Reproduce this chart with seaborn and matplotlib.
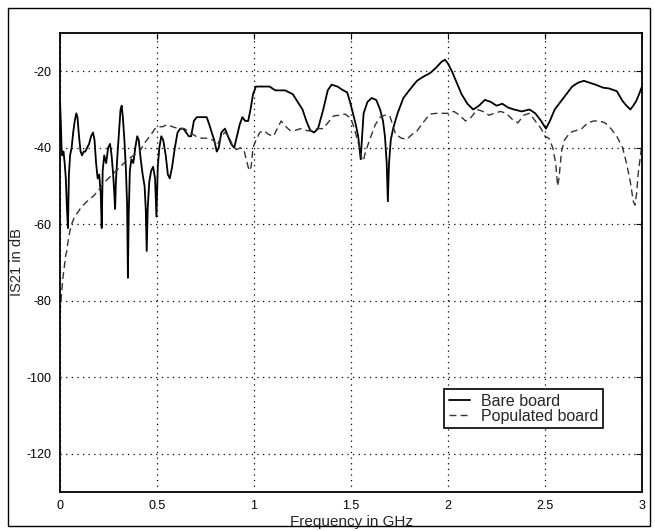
import matplotlib
matplotlib.use("Agg")
import matplotlib.pyplot as plt
import pandas as pd
import seaborn as sns
from matplotlib.patches import Rectangle

# |S21| of the bare board (solid trace), frequency in GHz
bare_freq = [
    0.000, 0.004, 0.008, 0.012, 0.018, 0.024, 0.030, 0.036, 0.041, 0.046,
    0.052, 0.060, 0.068, 0.076, 0.084, 0.090, 0.098, 0.106, 0.114, 0.122,
    0.130, 0.140, 0.150, 0.160, 0.170, 0.178, 0.186, 0.194, 0.202, 0.210,
    0.215, 0.220, 0.228, 0.238, 0.248, 0.258, 0.266, 0.274, 0.280, 0.284,
    0.288, 0.296, 0.304, 0.312, 0.318, 0.324, 0.332, 0.340, 0.346, 0.350,
    0.354, 0.360, 0.368, 0.378, 0.388, 0.398, 0.406, 0.416, 0.426, 0.436,
    0.442, 0.447, 0.452, 0.460, 0.470, 0.480, 0.490, 0.497, 0.504, 0.512,
    0.522, 0.532, 0.545, 0.556, 0.566, 0.578, 0.592, 0.606, 0.620, 0.636,
    0.650, 0.664, 0.676, 0.690, 0.705, 0.720, 0.740, 0.756, 0.770, 0.782,
    0.795, 0.808, 0.818, 0.832, 0.850, 0.866, 0.882, 0.898, 0.912, 0.926,
    0.940, 0.955, 0.970, 0.982, 0.995, 1.010, 1.030, 1.055, 1.080, 1.110,
    1.134, 1.160, 1.200, 1.225, 1.250, 1.270, 1.290, 1.310, 1.330, 1.357,
    1.380, 1.400, 1.430, 1.460, 1.480, 1.495, 1.510, 1.525, 1.537, 1.546,
    1.550, 1.556, 1.565, 1.585, 1.607, 1.630, 1.650, 1.665, 1.675, 1.684,
    1.690, 1.696, 1.705, 1.717, 1.740, 1.770, 1.800, 1.840, 1.870, 1.907,
    1.940, 1.967, 1.985, 2.000, 2.020, 2.045, 2.070, 2.100, 2.130, 2.160,
    2.190, 2.220, 2.250, 2.280, 2.310, 2.340, 2.380, 2.420, 2.450, 2.480,
    2.505, 2.525, 2.550, 2.580, 2.610, 2.640, 2.670, 2.700, 2.730, 2.760,
    2.800, 2.830, 2.870, 2.900, 2.920, 2.940, 2.955, 2.970, 2.985, 3.000,
]
bare_db = [
    -28, -33, -40, -42, -41, -44, -48, -56, -61, -47,
    -42, -40, -36, -33, -31, -32, -37, -41, -42, -41,
    -41, -40, -39, -37, -36, -38, -44, -48, -47, -52,
    -61, -46, -42, -44, -40, -39, -42, -47, -52, -56,
    -49, -42, -36, -30, -29, -32, -38, -46, -55, -74,
    -58, -46, -43, -44, -40, -37, -38, -43, -47, -50,
    -56, -67, -56, -49, -46, -45, -48, -58, -45, -40,
    -37, -38, -42, -47, -48, -45, -40, -36, -35, -35,
    -36, -37, -37, -33, -32, -32, -32, -32, -34, -36,
    -38, -41, -40, -36, -35, -37, -39, -40, -37, -34,
    -32, -33, -33, -30, -26, -24, -24, -24, -24, -25,
    -25, -25, -26, -28, -30, -33, -35.5, -36, -35, -30,
    -25, -23.5, -24, -25, -25.5, -28, -31, -34, -37, -41,
    -43, -38, -31, -28, -27, -27.5, -30, -33, -37, -44,
    -54, -44, -38, -35, -31, -27, -25, -22.5, -21.5, -20.5,
    -19, -17.5, -17, -18, -20, -23, -26, -28.5, -30, -29,
    -27.5, -28, -29, -28.5, -29.5, -30, -30.5, -30, -31, -33,
    -35, -33, -30, -28, -26, -24, -23, -22.5, -23, -23.5,
    -24.3, -24.5, -25.2, -27.8, -29, -30, -29, -27.8, -26, -24,
]

# |S21| of the populated board (dashed trace)
pop_freq = [
    0.000, 0.005, 0.010, 0.015, 0.020, 0.025, 0.030, 0.035, 0.040, 0.050,
    0.060, 0.075, 0.090, 0.110, 0.130, 0.150, 0.175, 0.200, 0.230, 0.260,
    0.290, 0.320, 0.350, 0.380, 0.410, 0.440, 0.470, 0.490, 0.510, 0.530,
    0.550, 0.580, 0.610, 0.640, 0.670, 0.700, 0.730, 0.760, 0.790, 0.810,
    0.830, 0.850, 0.870, 0.890, 0.910, 0.930, 0.950, 0.965, 0.975, 0.985,
    0.995, 1.010, 1.030, 1.050, 1.075, 1.100, 1.120, 1.140, 1.165, 1.186,
    1.210, 1.240, 1.270, 1.290, 1.320, 1.357, 1.380, 1.410, 1.440, 1.470,
    1.490, 1.504, 1.520, 1.530, 1.545, 1.556, 1.563, 1.575, 1.600, 1.625,
    1.650, 1.675, 1.700, 1.715, 1.730, 1.760, 1.787, 1.815, 1.840, 1.870,
    1.907, 1.940, 1.974, 2.000, 2.030, 2.060, 2.090, 2.120, 2.150, 2.180,
    2.210, 2.240, 2.270, 2.300, 2.330, 2.360, 2.390, 2.420, 2.450, 2.480,
    2.500, 2.520, 2.540, 2.555, 2.565, 2.572, 2.585, 2.600, 2.630, 2.660,
    2.690, 2.720, 2.750, 2.780, 2.810, 2.840, 2.870, 2.900, 2.920, 2.940,
    2.955, 2.964, 2.972, 2.982, 2.992, 3.000,
]
pop_db = [
    -83, -80, -77, -74, -72, -70, -68, -67, -65, -62,
    -60, -58, -57, -55.5, -54.5, -53.5, -52.5, -51, -49, -47.5,
    -46, -44.5, -43, -42, -41, -38.5, -36.5, -35, -34.5, -34.5,
    -34, -34.5, -35, -35, -36, -37, -37.5, -37.5, -38, -39.5,
    -37, -36, -37, -39.5, -40.5, -40, -41, -44, -46, -45,
    -40, -38, -36, -35.5, -36.5, -37, -35, -33, -34.5, -35.5,
    -35.5, -35, -35.5, -35.6, -35, -35, -33.5, -31.7, -31.5, -31.2,
    -32, -33, -35.5, -37.4, -40, -43, -43.5, -41, -37.4, -34,
    -32, -31.5, -31.7, -34, -36.5, -37.5, -37.8, -36.5, -35.6, -33.5,
    -31.2, -31, -31, -31, -30.5, -31.5, -33, -32, -30, -30.5,
    -31.5, -31, -30.5, -31, -32.5, -33.5, -31.5, -31, -33, -35,
    -37, -37.5, -40, -44, -50, -48, -41, -38, -36, -35.5,
    -35, -33.5, -33, -33, -33.5, -35, -37, -40, -44, -49,
    -54, -55, -52, -46, -42, -39,
]

x_ticks = [0, 0.5, 1, 1.5, 2, 2.5, 3]
x_tick_labels = ["0", "0.5", "1", "1.5", "2", "2.5", "3"]
y_ticks = [-120, -100, -80, -60, -40, -20]
series_names = ["Bare board", "Populated board"]

sns.set_style("white")
plt.rcParams["font.family"] = ["Liberation Sans", "DejaVu Sans"]

bare = pd.DataFrame({"freq": bare_freq, "db": bare_db})
pop = pd.DataFrame({"freq": pop_freq, "db": pop_db})

W, H = 655, 531
fig = plt.figure(figsize=(W / 100, H / 100), dpi=100)
ax = fig.add_axes([60 / W, 1 - 492 / H, (642 - 60) / W, (492 - 33) / H])

sns.lineplot(data=bare, x="freq", y="db", ax=ax, color="black", lw=1.3,
             estimator=None, sort=False, label=series_names[0])
sns.lineplot(data=pop, x="freq", y="db", ax=ax, color="#333333", lw=1.0,
             estimator=None, sort=False, label=series_names[1],
             linestyle=(0, (5, 3)))

ax.set_xlim(0, 3)
ax.set_ylim(-130, -10)
ax.set_xticks(x_ticks)
ax.set_xticklabels(x_tick_labels)
ax.set_yticks(y_ticks)
ax.set_yticklabels([str(v) for v in y_ticks])

ax.grid(True, color="black", linestyle=(0, (1, 3.5)), lw=0.9)
ax.tick_params(axis="both", which="both", direction="in", length=4,
               top=True, right=True, labelsize=9, pad=6, color="black",
               labelcolor="black")
for sp in ax.spines.values():
    sp.set_color("black")
    sp.set_linewidth(1.3)

ax.set_xlabel("Frequency in GHz", fontsize=11, labelpad=2)
ax.set_ylabel("IS21 in dB", fontsize=10.5, labelpad=2)

leg = ax.legend(loc="upper left", bbox_to_anchor=(0.66, 0.225),
                fontsize=11.5, frameon=True, fancybox=False,
                handlelength=1.3, handletextpad=0.7, labelspacing=0.0,
                borderpad=0.3, borderaxespad=0)
leg.get_frame().set_edgecolor("black")
leg.get_frame().set_linewidth(1.2)
leg.get_frame().set_alpha(1)

# Outer border around the whole figure
fig.add_artist(Rectangle((8 / W, 1 - 526 / H), (650 - 8) / W, (526 - 8) / H,
                         transform=fig.transFigure, fill=False,
                         edgecolor="black", lw=1.0))

fig.savefig("out.png", dpi=100)
